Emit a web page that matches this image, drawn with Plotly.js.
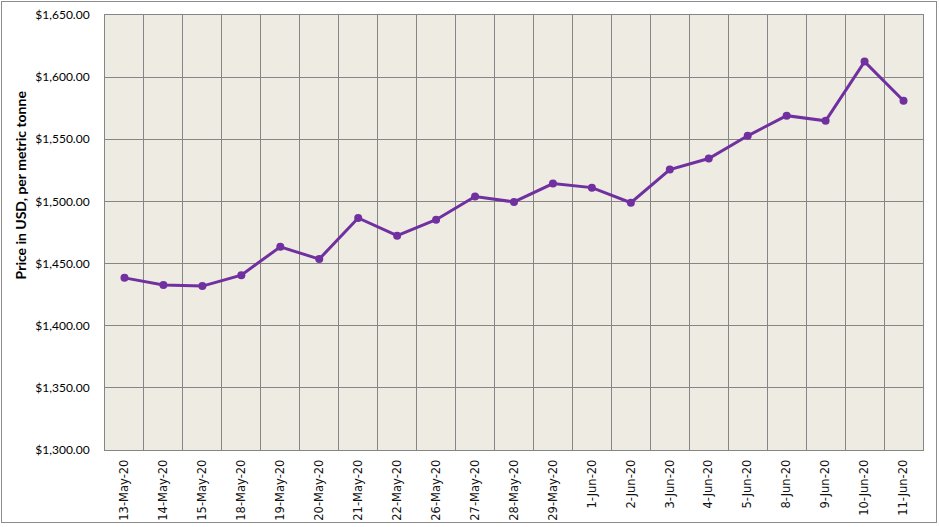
<!DOCTYPE html>
<html>
<head>
<meta charset="utf-8">
<script src="https://cdn.plot.ly/plotly-3.0.1.min.js"></script>
<style>
html,body{margin:0;padding:0;background:#fff;}
#wrap{position:relative;width:939px;height:527px;}
#chart{position:absolute;left:0;top:0;width:939px;height:527px;}
#frame{position:absolute;left:1px;top:1px;width:934px;height:520px;border:1px solid #8c8c8c;pointer-events:none;}
</style>
</head>
<body>
<div id="wrap"><div id="chart"></div><div id="frame"></div></div>
<script>
const dates = ["13-May-20","14-May-20","15-May-20","18-May-20","19-May-20","20-May-20","21-May-20","22-May-20","26-May-20","27-May-20","28-May-20","29-May-20","1-Jun-20","2-Jun-20","3-Jun-20","4-Jun-20","5-Jun-20","8-Jun-20","9-Jun-20","10-Jun-20","11-Jun-20"];
const prices = [1438.5,1432.7,1431.9,1440.7,1463.5,1453.6,1486.7,1472.4,1485.3,1503.9,1499.6,1514.4,1511.1,1499.0,1525.6,1534.5,1552.8,1569.0,1564.9,1612.5,1581.0];
const yTicks = [1300,1350,1400,1450,1500,1550,1600,1650];
const yTickText = yTicks.map(v => "$" + v.toLocaleString("en-US",{minimumFractionDigits:2,maximumFractionDigits:2}));
const yTitle = "Price in USD, per metric tonne";

const trace = {
  x: dates, y: prices, type: "scatter", mode: "lines+markers",
  line: {color: "#7030A0", width: 3},
  marker: {color: "#7030A0", size: 8},
  hoverinfo: "x+y"
};
const layout = {
  width: 939, height: 527,
  margin: {l: 105, r: 16, t: 15, b: 77, pad: 0},
  paper_bgcolor: "rgba(0,0,0,0)",
  plot_bgcolor: "#EEEBE2",
  showlegend: false,
  xaxis: {
    type: "category", range: [-0.5, dates.length - 0.5],
    tickson: "boundaries", showgrid: true, gridcolor: "#868686", gridwidth: 1,
    showline: true, linecolor: "#868686", mirror: true,
    ticks: "", tickangle: -90,
    tickfont: {family: "DejaVu Sans, Verdana, sans-serif", size: 11.5, color: "#111"},
    ticklabelstandoff: 4,
    automargin: false, fixedrange: true
  },
  yaxis: {
    range: [1300, 1650], tickmode: "array", tickvals: yTicks, ticktext: yTickText,
    showgrid: true, gridcolor: "#868686", gridwidth: 1,
    showline: true, linecolor: "#868686", mirror: true,
    ticks: "", zeroline: false,
    tickfont: {family: "Lato, Open Sans, sans-serif", size: 12, color: "#000"},
    ticklabelstandoff: 12,
    automargin: false, fixedrange: true
  },
  annotations: [{
    text: "<b>" + yTitle + "</b>", textangle: -90, showarrow: false,
    xref: "paper", yref: "paper", x: -0.103, y: 0.61,
    xanchor: "center", yanchor: "middle",
    font: {family: "Lato, Open Sans, sans-serif", size: 14, color: "#000"}
  }],
  font: {family: "Lato, sans-serif"}
};
Plotly.newPlot("chart", [trace], layout, {displayModeBar: false, staticPlot: true});
</script>
</body>
</html>
